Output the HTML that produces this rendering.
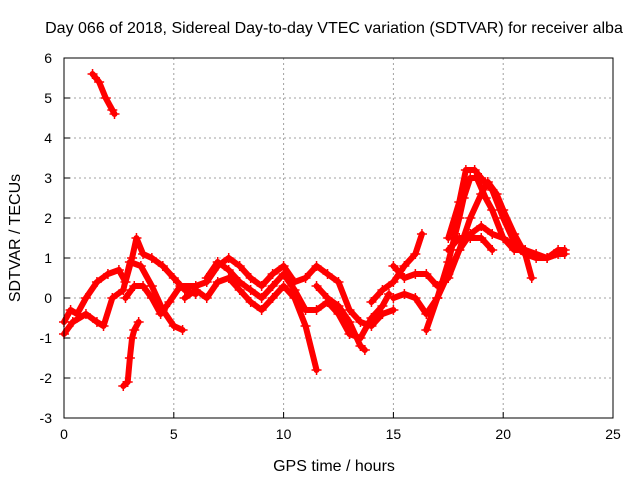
<!DOCTYPE html>
<html><head><meta charset="utf-8"><style>
body{margin:0;background:#fff;}
svg{display:block;font-family:"Liberation Sans",sans-serif;}
</style></head><body>
<svg id="chart" width="640" height="480" viewBox="0 0 640 480">
<rect width="640" height="480" fill="#fff"/>
<text x="334" y="33" font-size="16" text-anchor="middle">Day 066 of 2018, Sidereal Day-to-day VTEC variation (SDTVAR) for receiver alba</text>
<g id="grid"></g>
<g id="marks"></g>
<rect x="64" y="58" width="549" height="360" fill="none" stroke="#000" stroke-width="1"/>
<g id="ticks"></g>
<text x="334" y="471" font-size="16" text-anchor="middle">GPS time / hours</text>
<text transform="translate(20,238) rotate(-90)" font-size="16" text-anchor="middle">SDTVAR / TECUs</text>
</svg>
<script>
const xTicks=[0,5,10,15,20,25];
const yTicks=[-3,-2,-1,0,1,2,3,4,5,6];
const arcA=[[1.3,5.6],[1.6,5.4],[1.9,5.0],[2.2,4.7],[2.3,4.6]];
const arcB=[[2.7,-2.2],[2.9,-2.1],[3.0,-1.5],[3.1,-1.0],[3.2,-0.8],[3.4,-0.6]];
const arcC=[[0,-0.6],[0.3,-0.3],[0.6,-0.4],[1.0,0],[1.5,0.4],[2.0,0.6],[2.5,0.7],[2.8,0.4],[3.1,1.0],[3.3,1.5],[3.6,1.1],[4.0,1.0],[4.5,0.8],[5,0.5],[5.5,0.2],[6,0.1]];
const arcD=[[0,-0.9],[0.4,-0.6],[1,-0.4],[1.5,-0.6],[1.8,-0.7],[2.2,0.0],[2.7,0.2],[3.0,0.9],[3.5,0.8],[4,0.3],[4.5,-0.3],[5,-0.7],[5.4,-0.8]];
const arcE=[[2.8,0],[3.2,0.3],[3.6,0.3],[4.0,0.0],[4.4,-0.4],[4.8,-0.1],[5.3,0.3],[6,0.3],[6.5,0.4],[7,0.8],[7.5,1.0],[8,0.8],[8.5,0.5],[9,0.3],[9.5,0.6],[10,0.8],[10.5,0.4],[11,0.5],[11.5,0.8],[12,0.6],[12.5,0.4],[13,-0.3],[13.5,-0.6],[14,-0.7],[14.5,-0.4],[15,-0.3]];
const arcF=[[5.5,0.0],[6,0.2],[6.5,0.0],[7,0.4],[7.5,0.5],[8,0.2],[8.5,-0.1],[9,-0.3],[9.5,0],[10,0.3],[10.5,0.0],[11,-0.7],[11.5,-1.8]];
const arcG=[[6.5,0.5],[7,0.9],[7.5,0.7],[8,0.4],[8.5,0.2],[9,0.0],[9.5,0.3],[10,0.6],[10.5,0.2],[11,-0.3],[11.5,-0.3],[12,-0.1],[12.5,-0.4],[13,-0.9],[13.5,-1.0],[14,-0.5],[14.5,-0.2],[14.8,0.1]];
const arcH=[[11.5,0.3],[12,0.0],[12.5,-0.2],[13,-0.6],[13.5,-1.2],[13.7,-1.3]];
const arcI=[[14,-0.1],[14.5,0.2],[15,0.4],[15.5,0.8],[16,1.1],[16.3,1.6]];
const arcJ=[[15,0.8],[15.5,0.5],[16,0.6],[16.5,0.6],[17,0.3],[17.5,0.5],[18,1.2],[18.5,1.6],[19,1.8],[19.5,1.6],[20,1.5],[20.5,1.3],[21,1.1],[21.5,1.0],[22,1.0],[22.5,1.1],[22.8,1.1]];
const arcK=[[15,0.0],[15.5,0.1],[16,0.0],[16.5,-0.4],[17,0.0],[17.5,0.9],[18,2.0],[18.2,2.5],[18.5,3.0],[18.8,3.0],[19.2,2.5],[19.5,2.2],[20,1.5],[20.5,1.2],[21,1.2],[21.5,1.1],[22,1.0],[22.5,1.2],[22.8,1.2]];
const arcL=[[17.5,1.5],[18,2.4],[18.3,3.2],[18.7,3.2],[19.0,3.0],[19.5,2.7],[20,2.0],[20.5,1.4],[21,1.2]];
const arcM=[[17.5,1.2],[18,1.5],[18.5,1.5],[19,1.5],[19.5,1.2]];
const arcN=[[16.5,-0.8],[17,0.0],[17.5,0.6],[18,1.2],[18.5,2.0],[19,2.6],[19.3,2.9],[19.7,2.6],[20,2.2],[20.5,1.6],[21,1.1],[21.3,0.5]];
const arcs=[arcA,arcB,arcC,arcD,arcE,arcF,arcG,arcH,arcI,arcJ,arcK,arcL,arcM,arcN];

const NS="http://www.w3.org/2000/svg";
const X0=64,X1=613,Y0=418,Y1=58;
function sx(v){return X0+(v-0)/(25-0)*(X1-X0);}
function sy(v){return Y0-(v-(-3))/(6-(-3))*(Y0-Y1);}
const grid=document.getElementById('grid'),ticks=document.getElementById('ticks'),marks=document.getElementById('marks');
function mk(tag,attrs,parent){const e=document.createElementNS(NS,tag);for(const k in attrs)e.setAttribute(k,attrs[k]);parent.appendChild(e);return e;}
xTicks.forEach(t=>{
  const x=sx(t);
  if(t>0&&t<25){const g=mk('line',{x1:x,x2:x,y1:Y1,y2:Y0,stroke:'#a0a0a0','stroke-dasharray':'2,3'},grid);
  
  }
  const tk=mk('line',{x1:x,x2:x,y1:Y0,y2:Y0-6,stroke:'#000'},ticks);
  
  
  const l=mk('text',{x:x,y:Y0+21,'font-size':14,'text-anchor':'middle'},ticks);l.textContent=t;
  
  
});
yTicks.forEach(t=>{
  const y=sy(t);
  if(t>-3&&t<6){const g=mk('line',{x1:X0,x2:X1,y1:y,y2:y,stroke:'#a0a0a0','stroke-dasharray':'2,3'},grid);
  
  }
  const tk=mk('line',{x1:X0,x2:X0+6,y1:y,y2:y,stroke:'#000'},ticks);
  
  
  const l=mk('text',{x:X0-12,y:y+5,'font-size':14,'text-anchor':'end'},ticks);l.textContent=t;
  
  
});
arcs.forEach((arc,i)=>{
  const p=mk('polyline',{points:arc.map(d=>sx(d[0])+','+sy(d[1])).join(' '),fill:'none',stroke:'#ff0000','stroke-width':6,'stroke-linejoin':'round','stroke-linecap':'round'},marks);
  
  
  arc.forEach(d=>{
    const x=sx(d[0]),y=sy(d[1]);
    const m=mk('path',{d:`M${x-5},${y}H${x+5}M${x},${y-5}V${y+5}`,stroke:'#ff0000','stroke-width':1.5},marks);
    
    
  });
});
</script>
</body></html>
